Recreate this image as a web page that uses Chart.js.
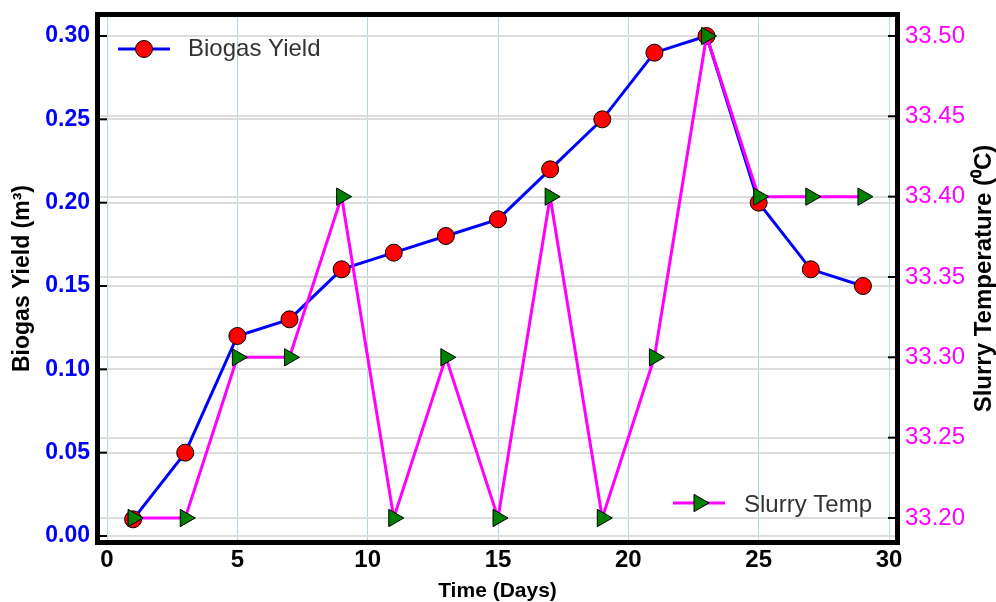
<!DOCTYPE html>
<html>
<head>
<meta charset="utf-8">
<script src="https://cdn.jsdelivr.net/npm/chart.js@4.4.1/dist/chart.umd.min.js"></script>
<style>
  html, body { margin: 0; padding: 0; background: #fff; }
  #wrap { width: 996px; height: 602px; position: relative; }
</style>
</head>
<body>
<div id="wrap"><canvas id="chart"></canvas></div>
<script>
// data
const days = [1, 3, 5, 7, 9, 11, 13, 15, 17, 19, 21, 23, 25, 27, 29];
const biogasYield = [0.01, 0.05, 0.12, 0.13, 0.16, 0.17, 0.18, 0.19, 0.22, 0.25, 0.29, 0.30, 0.20, 0.16, 0.15];
const slurryTemp = [33.2, 33.2, 33.3, 33.3, 33.4, 33.2, 33.3, 33.2, 33.4, 33.2, 33.3, 33.5, 33.4, 33.4, 33.4];

const xTicks = [0, 5, 10, 15, 20, 25, 30];
const yieldTicks = [0.00, 0.05, 0.10, 0.15, 0.20, 0.25, 0.30];
const tempTicks = [33.20, 33.25, 33.30, 33.35, 33.40, 33.45, 33.50];

const FONT = "'Liberation Sans', Arial, sans-serif";

// thick black frame + inward tick marks + the two separate legends + right title
const framePlugin = {
    id: 'frame',
    afterDraw(chart) {
        const ctx = chart.ctx;
        const a = chart.chartArea;
        ctx.save();

        // inward ticks
        ctx.strokeStyle = '#000';
        ctx.lineWidth = 2;
        yieldTicks.forEach(v => {
            const y = chart.scales.y.getPixelForValue(v);
            ctx.beginPath(); ctx.moveTo(a.left, y); ctx.lineTo(a.left + 7, y); ctx.stroke();
        });
        tempTicks.forEach(v => {
            const y = chart.scales.y1.getPixelForValue(v);
            ctx.beginPath(); ctx.moveTo(a.right - 7, y); ctx.lineTo(a.right, y); ctx.stroke();
        });

        ctx.lineWidth = 5;
        ctx.strokeRect(a.left - 2.5, a.top - 2.5, a.right - a.left + 5, a.bottom - a.top + 5);

        // legend: Biogas Yield (top left)
        let lx = a.left + 18, ly = a.top + 32;
        ctx.lineWidth = 3;
        ctx.strokeStyle = '#0000ff';
        ctx.beginPath(); ctx.moveTo(lx, ly); ctx.lineTo(lx + 52, ly); ctx.stroke();
        ctx.beginPath(); ctx.arc(lx + 26, ly, 8.5, 0, Math.PI * 2);
        ctx.fillStyle = '#ff0000'; ctx.fill();
        ctx.lineWidth = 1; ctx.strokeStyle = '#000'; ctx.stroke();
        ctx.fillStyle = '#333';
        ctx.font = '24px ' + FONT;
        ctx.textBaseline = 'middle';
        ctx.fillText('Biogas Yield', lx + 70, ly);

        // legend: Slurry Temp (bottom right)
        lx = a.left + 573; ly = a.bottom - 37;
        ctx.lineWidth = 3;
        ctx.strokeStyle = '#ff00ff';
        ctx.beginPath(); ctx.moveTo(lx, ly); ctx.lineTo(lx + 52, ly); ctx.stroke();
        ctx.beginPath();
        ctx.moveTo(lx + 26 + 10, ly);
        ctx.lineTo(lx + 26 - 5, ly - 8.66);
        ctx.lineTo(lx + 26 - 5, ly + 8.66);
        ctx.closePath();
        ctx.fillStyle = '#008000'; ctx.fill();
        ctx.lineWidth = 1; ctx.strokeStyle = '#000'; ctx.stroke();
        ctx.fillStyle = '#333';
        ctx.fillText('Slurry Temp', lx + 71, ly + 2);

        // right axis title, reading bottom to top
        ctx.translate(984, (a.top + a.bottom) / 2);
        ctx.rotate(-Math.PI / 2);
        ctx.textAlign = 'center';
        ctx.fillStyle = '#000';
        ctx.font = 'bold 24px ' + FONT;
        ctx.fillText('Slurry Temperature (⁰C)', 0, 0);

        ctx.restore();
    }
};

// keep the plot area where the frame is, ignoring label overflow
function noPad(s) {
    s.paddingTop = 0;
    s.paddingBottom = 0;
    s.paddingLeft = 0;
    s.paddingRight = 0;
}

new Chart(
    document.getElementById('chart'),
    {
        type: 'line',
        plugins: [framePlugin],
        data: {
            labels: days,
            datasets: [
                {
                    label: 'Slurry Temp',
                    data: days.map((d, i) => ({ x: d, y: slurryTemp[i] })),
                    yAxisID: 'y1',
                    borderColor: '#ff00ff',
                    borderWidth: 3,
                    pointStyle: 'triangle',
                    pointRotation: 90,
                    pointRadius: 10,
                    pointBackgroundColor: '#008000',
                    pointBorderColor: '#000',
                    pointBorderWidth: 1,
                    tension: 0,
                    order: 1,
                },
                {
                    label: 'Biogas Yield',
                    data: days.map((d, i) => ({ x: d, y: biogasYield[i] })),
                    yAxisID: 'y',
                    borderColor: '#0000ff',
                    borderWidth: 3,
                    pointStyle: 'circle',
                    pointRadius: 8.5,
                    pointBackgroundColor: '#ff0000',
                    pointBorderColor: '#000',
                    pointBorderWidth: 1,
                    tension: 0,
                    order: 2,
                },
            ]
        },
        options: {
            responsive: true,
            maintainAspectRatio: false,
            animation: false,
            clip: false,
            layout: { padding: { top: 17, left: 0, right: 0, bottom: 0 } },
            plugins: {
                legend: { display: false },
                tooltip: { enabled: false },
            },
            scales: {
                x: {
                    type: 'linear',
                    min: -0.27,
                    max: 30.23,
                    afterFit: s => { s.height = 62; noPad(s); },
                    afterBuildTicks: s => { s.ticks = xTicks.map(v => ({ value: v })); },
                    border: { display: false },
                    grid: { color: '#add8e6', lineWidth: 1, drawTicks: false },
                    ticks: {
                        padding: 6,
                        color: '#000',
                        font: { family: FONT, size: 24, weight: 'bold' },
                    },
                    title: {
                        display: true,
                        text: 'Time (Days)',
                        color: '#000',
                        padding: 0,
                        font: { family: FONT, size: 21, weight: 'bold', lineHeight: 1 },
                    },
                },
                y: {
                    type: 'linear',
                    position: 'left',
                    min: -0.0024,
                    max: 0.3114,
                    afterFit: s => { s.width = 100; noPad(s); },
                    afterBuildTicks: s => { s.ticks = yieldTicks.map(v => ({ value: v })); },
                    border: { display: false },
                    grid: { color: '#dcdcdc', lineWidth: 2, drawTicks: false },
                    ticks: {
                        padding: 10,
                        color: '#0000ff',
                        font: { family: FONT, size: 23, weight: 'bold' },
                        callback: v => v.toFixed(2),
                    },
                    title: {
                        display: true,
                        text: 'Biogas Yield (m³)',
                        color: '#000',
                        padding: { top: 9, bottom: 0 },
                        font: { family: FONT, size: 23, weight: 'bold' },
                    },
                },
                y1: {
                    type: 'linear',
                    position: 'right',
                    min: 33.1863,
                    max: 33.5118,
                    afterFit: s => { s.width = 101; noPad(s); },
                    afterBuildTicks: s => { s.ticks = tempTicks.map(v => ({ value: v })); },
                    border: { display: false },
                    grid: { color: '#dcdcdc', lineWidth: 2, drawTicks: false },
                    ticks: {
                        padding: 10,
                        color: '#ff00ff',
                        font: { family: FONT, size: 24 },
                        callback: v => v.toFixed(2),
                    },
                    title: { display: false },
                },
            },
        },
    }
);
</script>
</body>
</html>
